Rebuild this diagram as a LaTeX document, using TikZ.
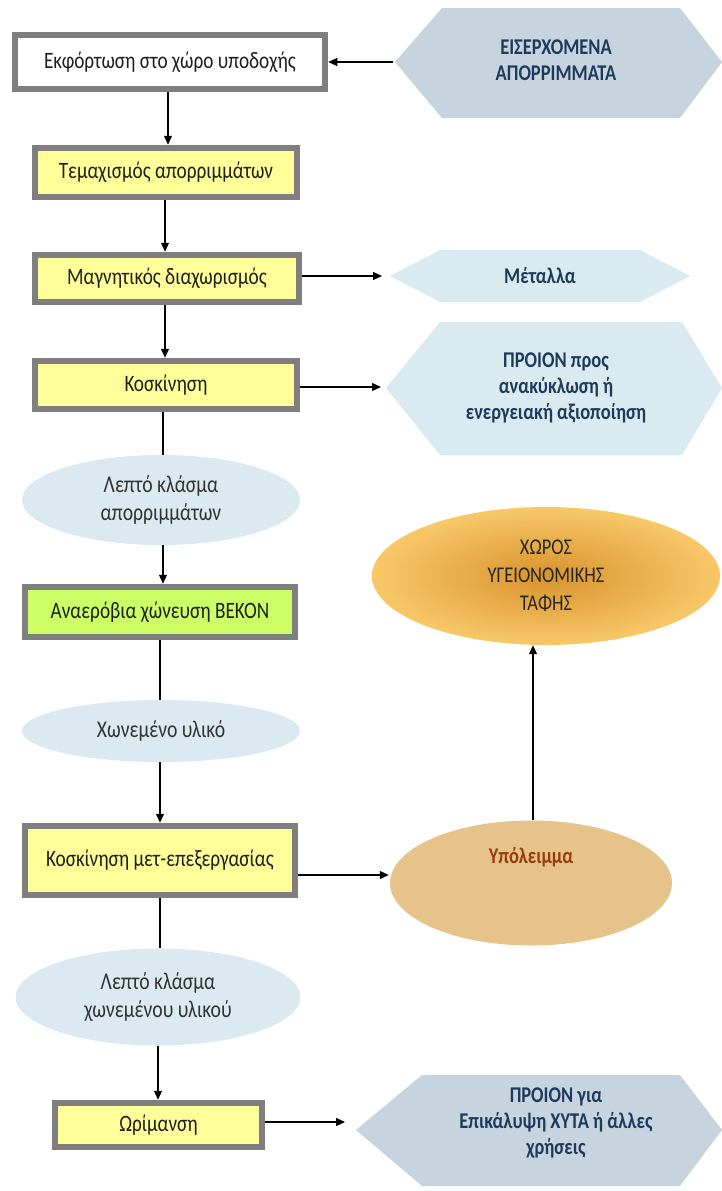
\documentclass[tikz,border=0pt]{standalone}
\usepackage{fontspec}
\setmainfont{Carlito}[FakeStretch=0.82]
\usetikzlibrary{shapes.geometric,arrows.meta}

\definecolor{frame}{HTML}{7F7F7F}
\definecolor{padyellow}{HTML}{FFFF99}
\definecolor{padgreen}{HTML}{CCFF66}
\definecolor{hexdark}{HTML}{C6D4DF}
\definecolor{hexlight}{HTML}{DAEAF1}
\definecolor{pale}{HTML}{DAEAF0}
\definecolor{tan}{HTML}{E5C38A}
\definecolor{navy}{HTML}{1F3B5C}
\definecolor{rust}{HTML}{9A3A12}
\definecolor{ochre}{HTML}{D8932E}
\definecolor{ochrelight}{HTML}{F8C868}

\tikzset{
  x=1pt, y=-1pt,
  procbox/.style={draw=frame, line width=6.5pt, fill=padyellow, inner sep=0pt,
    font=\fontsize{23.5}{27}\selectfont, text=black!88},
  flowell/.style={ellipse, fill=pale, inner sep=0pt, align=center,
    font=\fontsize{24}{28}\selectfont, text=black!80},
  hexlabel/.style={align=center, font=\bfseries\fontsize{22.5}{26}\selectfont, text=navy},
  arr/.style={line width=1.2pt, -{Triangle[length=9pt,width=8pt]}},
  link/.style={line width=1.2pt}
}

\begin{document}
\begin{tikzpicture}
\useasboundingbox (0,0) rectangle (722,1191);

% process boxes of the main line
\node[procbox, fill=white, minimum width=310pt, minimum height=54pt] (b1) at (170,62) {Εκφόρτωση στο χώρο υποδοχής};
\node[procbox, minimum width=262pt, minimum height=49pt] (b2) at (166,172.5) {Τεμαχισμός απορριμμάτων};
\node[procbox, minimum width=264pt, minimum height=47pt] (b3) at (167,278.5) {Μαγνητικός διαχωρισμός};
\node[procbox, minimum width=262pt, minimum height=48pt] (b4) at (166,385) {Κοσκίνηση};
\node[procbox, fill=padgreen, minimum width=270pt, minimum height=50pt] (b5) at (160,612) {Αναερόβια χώνευση ΒΕΚΟΝ};
\node[procbox, minimum width=270pt, minimum height=69pt] (b6) at (160,860.5) {Κοσκίνηση μετ-επεξεργασίας};
\node[procbox, minimum width=207pt, minimum height=44pt] (b7) at (158.5,1125) {Ωρίμανση};

% intermediate material streams
\node[flowell, minimum width=278pt, minimum height=90pt] (e1) at (161,500) {Λεπτό κλάσμα\\απορριμμάτων};
\node[flowell, minimum width=278pt, minimum height=62pt] (e2) at (161,731) {Χωνεμένο υλικό};
\node[flowell, minimum width=285pt, minimum height=97pt] (e3) at (158,997) {Λεπτό κλάσμα\\χωνεμένου υλικού};

% residue and landfill
\node[ellipse, fill=tan, inner sep=0pt, minimum width=282pt, minimum height=125pt] (res) at (531,883) {};
\node[font=\bfseries\fontsize{22.5}{27}\selectfont, text=rust] (reslabel) at (531,857) {Υπόλειμμα};
\node[ellipse, inner sep=0pt, minimum width=348pt, minimum height=138pt,
      inner color=ochre, outer color=ochrelight, align=center,
      font=\fontsize{22.5}{28}\selectfont, text=black!85] (land) at (546,576)
      {ΧΩΡΟΣ\\ΥΓΕΙΟΝΟΜΙΚΗΣ\\ΤΑΦΗΣ};

% hexagonal inputs and outputs
\fill[hexdark] (395,62) -- (442,8) -- (680,8) -- (722,62) -- (680,118) -- (442,118) -- cycle;
\coordinate (h1w) at (393,62);
\node[hexlabel] (h1) at (556,60) {ΕΙΣΕΡΧΟΜΕΝΑ\\ΑΠΟΡΡΙΜΜΑΤΑ};

\fill[hexlight] (390,276) -- (440,250) -- (640,250) -- (690,276) -- (640,302) -- (440,302) -- cycle;
\coordinate (h2w) at (388,276);
\node[hexlabel] (h2) at (540,276) {Μέταλλα};

\fill[hexlight] (386,388) -- (440,322) -- (682,322) -- (722,388) -- (682,455) -- (440,455) -- cycle;
\coordinate (h3w) at (384,388);
\node[hexlabel] (h3) at (556,388) {ΠΡΟΙΟΝ προς\\ανακύκλωση ή\\ενεργειακή αξιοποίηση};

\fill[hexdark] (356,1130) -- (422,1075) -- (680,1075) -- (722,1130) -- (680,1186) -- (422,1186) -- cycle;
\coordinate (h4w) at (354,1130);
\node[hexlabel] (h4) at (556,1123) {ΠΡΟΙΟΝ για\\Επικάλυψη ΧΥΤΑ ή άλλες\\χρήσεις};

% main flow
\draw[arr] (h1w) -- (b1.east);
\draw[arr] (b1.south -| 168,0) -- (b2.north -| 168,0);
\draw[arr] (b2.south -| 165,0) -- (b3.north -| 165,0);
\draw[arr] (b3.south -| 165,0) -- (b4.north -| 165,0);
\draw[link] (b4.south -| 163,0) -- (e1.north -| 163,0);
\draw[arr] (e1.south -| 163,0) -- (b5.north -| 163,0);
\draw[link] (b5.south -| 160,0) -- (e2.north -| 160,0);
\draw[arr] (e2.south -| 160,0) -- (b6.north -| 160,0);
\draw[link] (b6.south -| 160,0) -- (e3.north -| 160,0);
\draw[arr] (e3.south -| 158,0) -- (b7.north -| 158,0);

% side streams
\draw[arr] (b3.east |- 0,276) -- ([xshift=-6pt]h2w);
\draw[arr] (b4.east |- 0,387) -- ([xshift=-3pt]h3w |- 0,387);
\draw[arr] (b6.east |- 0,875) -- ([xshift=-1pt]res.west |- 0,875);
\draw[arr] (res.north -| 533,0) -- (land.south -| 533,0);
\draw[arr] (b7.east |- 0,1122) -- ([xshift=-9pt]h4w |- 0,1122);
\end{tikzpicture}
\end{document}
